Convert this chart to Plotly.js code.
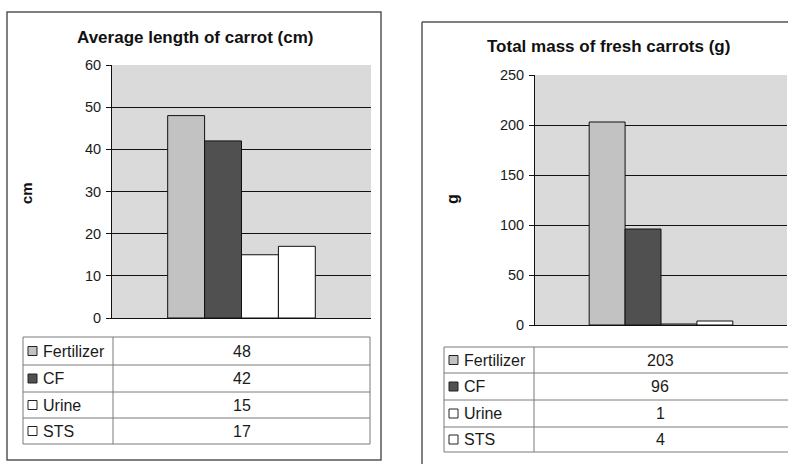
<!DOCTYPE html>
<html><head><meta charset="utf-8">
<script src="https://cdn.plot.ly/plotly-3.0.1.min.js"></script>
<style>html,body{margin:0;padding:0;background:#fff}#c{width:788px;height:464px}</style>
</head><body><div id="c"></div>
<script>
const categories = ["Fertilizer", "CF", "Urine", "STS"];
const lengthValues = [48, 42, 15, 17];
const massValues = [203, 96, 1, 4];
const lengthTitle = "Average length of carrot (cm)";
const massTitle = "Total mass of fresh carrots (g)";
const lengthTicks = [0, 10, 20, 30, 40, 50, 60];
const massTicks = [0, 50, 100, 150, 200, 250];

const W = 788, H = 464;
const px = x => x / W, py = y => 1 - y / H;
const colors = ["#c2c2c2", "#505050", "#ffffff", "#ffffff"];
const FONT = "Liberation Sans, Arial, sans-serif";

const traces = [];
categories.forEach((c, i) => {
  traces.push({type: "bar", x: ["g"], y: [lengthValues[i]], name: c, xaxis: "x", yaxis: "y",
    marker: {color: colors[i], line: {color: "#111", width: 1}}, showlegend: false, hoverinfo: "skip"});
});
categories.forEach((c, i) => {
  traces.push({type: "bar", x: ["g"], y: [massValues[i]], name: c, xaxis: "x2", yaxis: "y2",
    marker: {color: colors[i], line: {color: "#111", width: 1}}, showlegend: false, hoverinfo: "skip"});
});

const shapes = [], annotations = [];
const line = (x0, y0, x1, y1, color, w) => shapes.push({type: "line", xref: "paper", yref: "paper",
  x0: px(x0), y0: py(y0), x1: px(x1), y1: py(y1), line: {color: color, width: w}});
const rect = (x0, y0, x1, y1, color, w, fill) => shapes.push({type: "rect", xref: "paper", yref: "paper",
  x0: px(x0), y0: py(y0), x1: px(x1), y1: py(y1), line: {color: color, width: w}, fillcolor: fill || "rgba(0,0,0,0)"});
const text = (t, x, y, opts) => annotations.push(Object.assign({xref: "paper", yref: "paper", x: px(x), y: py(y),
  xanchor: "center", yanchor: "middle", text: t, showarrow: false,
  font: {family: FONT, size: 16, color: "#1a1a1a"}}, opts || {}));

// outer boxes
rect(7, 12, 381, 460, "#555", 1.5);
line(422, 22, 790, 22, "#555", 1.5);
line(422, 22, 422, 466, "#555", 1.5);

// titles
text("<b>" + lengthTitle + "</b>", 195, 37, {font: {family: FONT, size: 17, color: "#111"}});
text("<b>" + massTitle + "</b>", 608, 47, {font: {family: FONT, size: 17, color: "#111"}});
text("<b>cm</b>", 26, 193, {textangle: -90, font: {family: FONT, size: 15, color: "#111"}});
text("<b>g</b>", 452, 199, {textangle: -90, font: {family: FONT, size: 16, color: "#111"}});

// data tables
function table(x0, x1, xd, rows, values) {
  const tc = "#7a7a7a";
  rect(x0, rows[0], x1, rows[rows.length - 1], tc, 1);
  for (let i = 1; i < rows.length - 1; i++) line(x0, rows[i], x1, rows[i], tc, 1);
  line(xd, rows[0], xd, rows[rows.length - 1], tc, 1);
  categories.forEach((c, i) => {
    const yc = (rows[i] + rows[i + 1]) / 2;
    rect(x0 + 5, yc - 4.5, x0 + 14, yc + 4.5, "#222", 1, colors[i]);
    text(c, x0 + 18, yc, {xanchor: "left"});
    text(String(values[i]), (xd + Math.min(x1, 786)) / 2, yc);
  });
}
table(23, 370, 113, [337, 365, 392, 418, 444], lengthValues);
table(444, 792, 534, [347, 373, 400, 427, 452], massValues);

const yax = (dom, range, ticks) => ({domain: dom, range: range, tickvals: ticks, showgrid: true, gridcolor: "#111",
  gridwidth: 1, zeroline: false, showline: true, linecolor: "#111", linewidth: 1, ticks: "outside", ticklen: 5,
  tickcolor: "#111", ticklabelstandoff: 2, tickfont: {family: FONT, size: 14.5, color: "#1a1a1a"}, fixedrange: true});
const xax = (dom, anchor) => ({domain: dom, anchor: anchor, showticklabels: false, showline: true, linecolor: "#111",
  linewidth: 1, ticks: "", showgrid: false, fixedrange: true});

const layout = {
  width: W, height: H, margin: {l: 0, r: 0, t: 0, b: 0}, paper_bgcolor: "#fff", plot_bgcolor: "#dadada",
  barmode: "group", bargap: 0.43, bargroupgap: 0, showlegend: false,
  xaxis: xax([px(112), px(371)], "y"),
  yaxis: yax([py(318), py(65)], [0, 60], lengthTicks),
  xaxis2: xax([px(535), px(787)], "y2"),
  yaxis2: Object.assign(yax([py(325), py(75)], [0, 250], massTicks), {anchor: "x2"}),
  shapes: shapes, annotations: annotations
};
layout.yaxis.anchor = "x";
Plotly.newPlot("c", traces, layout, {staticPlot: true});
</script></body></html>
